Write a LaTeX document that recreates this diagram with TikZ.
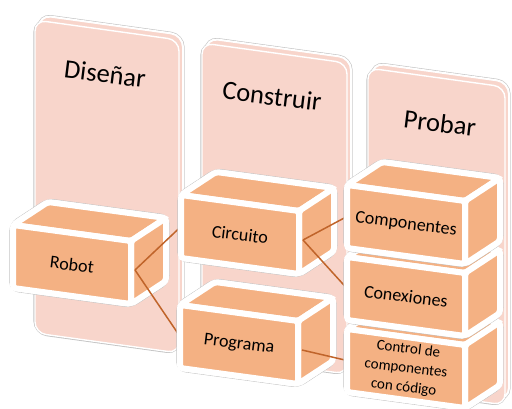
\documentclass[tikz,border=0pt]{standalone}
\usepackage{fontspec}
\setmainfont{Carlito}
\definecolor{panelfill}{HTML}{F8D5CB}
\definecolor{boxfill}{HTML}{F4B183}
\definecolor{linkcol}{HTML}{C0642A}
\definecolor{edgegrey}{HTML}{C4C4C4}
\pgfdeclarelayer{lpanel}
\pgfdeclarelayer{lbox1}
\pgfdeclarelayer{llink1}
\pgfdeclarelayer{lbox2}
\pgfdeclarelayer{llink2}
\pgfsetlayers{lpanel,lbox1,llink1,lbox2,llink2,main}
\tikzset{
  panelouter/.style={draw=edgegrey, line width=3.2pt, rounded corners=12pt},
  panelback/.style={fill=panelfill, draw=white, line width=2pt, rounded corners=12pt},
  panelfront/.style={fill=panelfill, draw=white, line width=1.4pt, rounded corners=11pt},
  boxedge/.style={draw=edgegrey, line width=7.2pt, rounded corners=6pt},
  boxouter/.style={draw=white, fill=white, line width=6pt, rounded corners=6pt},
  boxface/.style={fill=boxfill, draw=white, line width=6pt, rounded corners=3pt},
  boxtext/.style={inner sep=0pt, rotate=-7, font=\fontsize{18}{21}\selectfont},
  smalltext/.style={align=center, font=\fontsize{15}{19.5}\selectfont},
  titletext/.style={inner sep=0pt, rotate=-7, font=\fontsize{26.5}{30}\selectfont},
  link/.style={draw=linkcol, line width=1.5pt}
}
\newcommand\drawpanel[5]{% x y w h s
  \begin{scope}[shift={(#1,#2)}]
    \path[panelouter] (4,-5) -- ++(#3,#5) -- ++(0,#4) -- ++(-#3,-#5) -- cycle;
    \path[panelouter] (0,0) -- ++(#3,#5) -- ++(0,#4) -- ++(-#3,-#5) -- cycle;
    \path[panelback] (4,-5) -- ++(#3,#5) -- ++(0,#4) -- ++(-#3,-#5) -- cycle;
    \path[panelfront] (0,0) -- ++(#3,#5) -- ++(0,#4) -- ++(-#3,-#5) -- cycle;
  \end{scope}}
\newcommand\cuboid[6]{% layer name x y text extra-style
  \begin{pgfonlayer}{#1}
  \begin{scope}[shift={(#3,#4)}]
    \path[boxedge] (0,0) -- (35,-23) -- (153,-7) -- (153,56) -- (118,79) -- (0,63) -- cycle;
    \path[boxouter] (0,0) -- (35,-23) -- (153,-7) -- (153,56) -- (118,79) -- (0,63) -- cycle;
    \path[boxface] (0,0) -- (35,-23) -- (153,-7) -- (118,16) -- cycle;
    \path[boxface] (118,16) -- (153,-7) -- (153,56) -- (118,79) -- cycle;
    \path[boxface] (0,0) -- (118,16) -- (118,79) -- (0,63) -- cycle;
    \node[boxtext,#6] (#2) at (59,39.5) {#5};
    \coordinate (#2-e) at (122,45);
    \coordinate (#2-w) at (0,31.5);
  \end{scope}
  \end{pgfonlayer}}
\begin{document}
\begin{tikzpicture}[x=1pt,y=-1pt]
\useasboundingbox (0,0) rectangle (512,409);
% panels
\begin{pgfonlayer}{lpanel}
\drawpanel{35}{20}{144}{313}{20}
\drawpanel{202}{43}{145}{311}{20}
\drawpanel{368}{68}{137}{318}{19}
\node[titletext] (t1) at (105,74) {Diseñar};
\node[titletext] (t2) at (272,96) {Construir};
\node[titletext] (t3) at (440,123) {Probar};
\end{pgfonlayer}
% boxes
\cuboid{lbox1}{robot}{13}{225}{Robot}{}
\cuboid{lbox2}{circuito}{181}{195}{Circuito}{}
\cuboid{lbox2}{programa}{180}{305}{Programa}{}
\cuboid{main}{control}{347}{329}{Control de\\componentes\\con código}{smalltext}
\cuboid{main}{conexiones}{347}{257}{Conexiones}{}
\cuboid{main}{componentes}{347}{185}{Componentes}{}
% connectors
\begin{pgfonlayer}{llink1}
\draw[link] (robot-e) -- (circuito-w);
\draw[link] (robot-e) -- (programa-w);
\end{pgfonlayer}
\begin{pgfonlayer}{llink2}
\draw[link] (circuito-e) -- (componentes-w);
\draw[link] (circuito-e) -- (conexiones-w);
\draw[link] (programa-e) -- (control-w);
\end{pgfonlayer}
\end{tikzpicture}
\end{document}
